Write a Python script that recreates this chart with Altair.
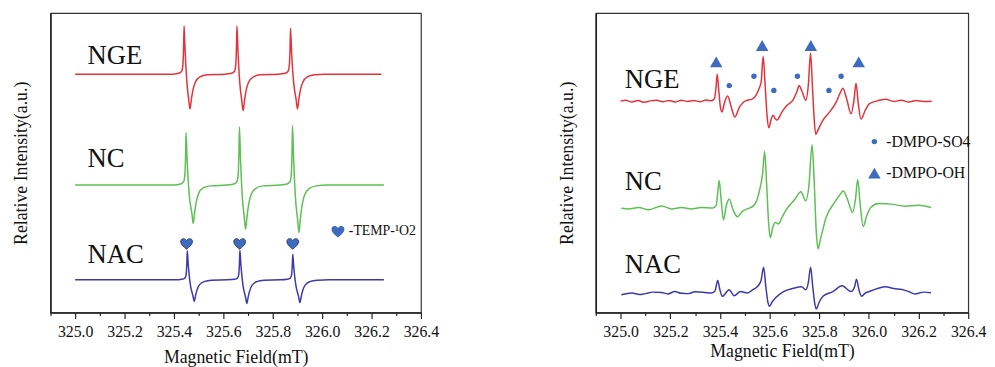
import altair as alt
import pandas as pd

FONT = "Liberation Serif"
RED = "#e3323a"
GREEN = "#5cc052"
BLUE = "#3b3aa8"
MARK_BLUE = "#3d6bbf"

SERIES = ["NGE", "NC", "NAC"]

# ---------------- Left panel (TEMP) ----------------
left_nge_x = [325.000, 325.391, 325.419, 325.431, 325.436, 325.439, 325.441, 325.445, 325.452, 325.460, 325.465,
              325.471, 325.477, 325.487, 325.505, 325.535,
              325.605, 325.633, 325.645, 325.650, 325.653, 325.655, 325.659, 325.666, 325.675, 325.680,
              325.686, 325.692, 325.702, 325.720, 325.750,
              325.822, 325.850, 325.862, 325.867, 325.870, 325.872, 325.876, 325.884, 325.895, 325.900,
              325.906, 325.912, 325.922, 325.940, 325.970, 326.010, 326.240]
left_nge_y = [79.6, 79.6, 79.9, 80.6, 82.6, 88.5, 95.7, 87.7, 77.3, 70.9, 68.0,
              71.5, 74.4, 77.0, 78.7, 79.4,
              79.6, 79.9, 80.6, 82.6, 88.5, 95.7, 87.7, 77.2, 70.5, 67.4,
              71.1, 74.1, 76.9, 78.6, 79.4,
              79.6, 79.9, 80.6, 82.6, 88.1, 95.0, 87.3, 77.3, 70.9, 68.0,
              71.5, 74.4, 77.0, 78.7, 79.4, 79.6, 79.6]

left_nc_x = [325.000, 325.399, 325.427, 325.439, 325.444, 325.447, 325.449, 325.453, 325.461, 325.473, 325.478,
             325.484, 325.490, 325.500, 325.518, 325.548,
             325.615, 325.643, 325.655, 325.660, 325.663, 325.665, 325.669, 325.676, 325.685, 325.690,
             325.696, 325.702, 325.712, 325.730, 325.760,
             325.830, 325.858, 325.870, 325.875, 325.878, 325.880, 325.884, 325.891, 325.901, 325.906,
             325.912, 325.918, 325.928, 325.946, 325.976, 326.020, 326.250]
left_nc_y = [42.6, 42.6, 42.9, 43.7, 46.0, 52.2, 60.1, 51.4, 40.0, 32.9, 29.7,
             33.6, 36.8, 39.8, 41.6, 42.3,
             42.6, 42.9, 43.7, 46.0, 53.3, 62.0, 52.3, 39.6, 31.5, 27.8,
             32.2, 35.9, 39.3, 41.4, 42.3,
             42.6, 42.9, 43.7, 46.0, 53.5, 62.4, 52.5, 39.4, 30.7, 26.7,
             31.5, 35.4, 39.1, 41.3, 42.3, 42.6, 42.6]

left_nac_x = [325.000, 325.404, 325.432, 325.444, 325.449, 325.452, 325.454, 325.458, 325.466, 325.477, 325.482,
              325.488, 325.494, 325.504, 325.522, 325.552,
              325.617, 325.645, 325.657, 325.662, 325.665, 325.667, 325.671, 325.679, 325.690, 325.695,
              325.701, 325.707, 325.717, 325.735, 325.765,
              325.831, 325.859, 325.871, 325.876, 325.879, 325.881, 325.885, 325.893, 325.905, 325.910,
              325.916, 325.922, 325.932, 325.950, 325.980, 326.030, 326.250]
left_nac_y = [10.9, 10.9, 11.1, 11.5, 12.6, 16.2, 20.6, 15.8, 9.5, 5.5, 3.7,
              5.9, 7.7, 9.3, 10.3, 10.8,
              10.9, 11.1, 11.5, 12.6, 16.3, 20.8, 15.9, 9.3, 5.0, 3.0,
              5.4, 7.3, 9.2, 10.3, 10.8,
              10.9, 11.1, 11.5, 12.5, 15.6, 19.5, 15.2, 9.4, 5.2, 3.3,
              5.6, 7.5, 9.2, 10.3, 10.8, 10.9, 10.9]

heart_x = [325.451, 325.666, 325.881]
heart_y = [23.0, 23.0, 23.0]
heart_label = "-TEMP-\u00b9O2"

left_label_x = [325.050, 325.050, 325.050]
left_label_y = [85.7, 51.3, 19.1]

# ---------------- Right panel (DMPO) ----------------
right_nge_x = [325.000, 325.020, 325.045, 325.070, 325.095, 325.120, 325.145, 325.170, 325.195, 325.220,
               325.245, 325.270, 325.295, 325.320, 325.345, 325.365, 325.378, 325.384, 325.389, 325.395,
               325.402, 325.408, 325.418, 325.431, 325.445, 325.460, 325.478, 325.497, 325.515, 325.530,
               325.545, 325.556, 325.566, 325.574, 325.582, 325.590, 325.597, 325.606, 325.614, 325.622,
               325.630, 325.650, 325.670, 325.696, 325.710, 325.719, 325.730, 325.746, 325.756, 325.765,
               325.772, 325.780, 325.786, 325.795, 325.815, 325.842, 325.868, 325.885, 325.895, 325.910,
               325.928, 325.940, 325.948, 325.957, 325.968, 325.985, 326.001, 326.030, 326.067, 326.100,
               326.130, 326.160, 326.190, 326.220, 326.253]
right_nge_y = [70.6, 70.9, 70.3, 70.8, 70.2, 70.7, 70.9, 70.4, 70.8, 70.3,
               70.9, 70.5, 70.8, 70.4, 71.0, 70.7, 71.5, 75.0, 79.6, 74.5,
               68.5, 67.0, 70.0, 72.3, 68.8, 65.3, 68.5, 70.4, 71.0, 71.3,
               72.5, 74.5, 77.0, 85.5, 76.0, 65.5, 61.7, 64.5, 65.9, 64.8,
               64.3, 67.0, 69.2, 71.2, 73.8, 75.8, 74.0, 70.9, 76.0, 86.6,
               76.5, 64.0, 59.5, 61.0, 64.3, 67.0, 70.3, 73.5, 74.9, 71.5,
               66.4, 71.0, 76.6, 70.0, 64.6, 67.5, 69.7, 70.6, 71.2, 70.5,
               70.9, 70.3, 70.8, 70.5, 70.6]

right_nc_x = [325.003, 325.033, 325.072, 325.112, 325.165, 325.205, 325.245, 325.285, 325.324, 325.371,
              325.385, 325.391, 325.397, 325.404, 325.414, 325.425, 325.437, 325.452, 325.470, 325.490,
              325.510, 325.536, 325.550, 325.560, 325.572, 325.580, 325.588, 325.596, 325.603, 325.613,
              325.623, 325.636, 325.650, 325.669, 325.702, 325.726, 325.745, 325.758, 325.771, 325.779,
              325.788, 325.795, 325.805, 325.828, 325.861, 325.880, 325.897, 325.915, 325.934, 325.946,
              325.955, 325.965, 325.977, 325.990, 326.007, 326.040, 326.090, 326.145, 326.199, 326.250]
right_nc_y = [34.8, 34.6, 35.1, 34.3, 35.6, 34.6, 35.1, 34.6, 35.1, 34.9,
              35.8, 40.0, 44.1, 38.5, 30.9, 35.5, 37.9, 34.5, 32.0, 33.8,
              34.6, 35.7, 37.8, 41.0, 46.5, 53.8, 43.0, 30.0, 25.0, 28.5,
              30.1, 29.6, 31.8, 34.6, 37.8, 40.3, 37.3, 42.0, 56.0, 45.0,
              27.0, 21.3, 24.5, 31.8, 36.7, 39.0, 40.6, 37.5, 33.4, 38.0,
              44.4, 36.0, 28.7, 32.0, 35.1, 36.4, 36.2, 35.5, 35.8, 35.1]

right_nac_x = [325.003, 325.046, 325.075, 325.099, 325.130, 325.165, 325.190, 325.218, 325.245, 325.271,
               325.300, 325.338, 325.364, 325.380, 325.391, 325.400, 325.410, 325.437, 325.457, 325.483,
               325.510, 325.530, 325.550, 325.565, 325.576, 325.585, 325.593, 325.600, 325.610, 325.623,
               325.656, 325.696, 325.729, 325.745, 325.756, 325.765, 325.774, 325.782, 325.788, 325.800,
               325.815, 325.855, 325.892, 325.928, 325.942, 325.950, 325.960, 325.971, 325.985, 326.001,
               326.035, 326.067, 326.100, 326.133, 326.160, 326.186, 326.220, 326.250]
right_nac_y = [5.9, 6.5, 6.0, 6.3, 6.8, 6.7, 6.2, 7.0, 6.4, 6.3,
               6.9, 6.7, 6.5, 7.2, 10.7, 7.5, 5.4, 7.6, 5.6, 7.0,
               6.5, 7.5, 8.6, 10.5, 15.1, 8.5, 3.5, 2.1, 3.5, 4.8,
               7.0, 8.1, 8.6, 7.6, 10.0, 15.1, 8.5, 3.0, 1.2, 3.5,
               5.4, 7.0, 8.9, 7.0, 8.5, 11.1, 7.5, 5.4, 6.5, 7.0,
               8.0, 8.6, 8.0, 7.7, 7.0, 6.2, 6.8, 6.6]

tri_x = [325.385, 325.570, 325.766, 325.959]
tri_y = [83.7, 89.2, 89.2, 83.7]
dot_x = [325.4375, 325.537, 325.617, 325.712, 325.839, 325.888]
dot_y = [75.8, 78.9, 74.2, 78.9, 74.2, 78.9]
marker_names = ["-DMPO-SO4", "-DMPO-OH"]

right_label_x = [325.017, 325.017, 325.017]
right_label_y = [77.5, 43.6, 15.8]

major_ticks = [325.0, 325.2, 325.4, 325.6, 325.8, 326.0, 326.2, 326.4]
minor_ticks = [324.9, 325.1, 325.3, 325.5, 325.7, 325.9, 326.1, 326.3]

HEART = ("M0,0.95 C-0.35,0.6 -1,0.2 -1,-0.35 C-1,-0.85 -0.4,-1.05 0,-0.55 "
         "C0.4,-1.05 1,-0.85 1,-0.35 C1,0.2 0.35,0.6 0,0.95 Z")


def lines_df(xs_list, ys_list):
    frames = []
    for name, xs, ys in zip(SERIES, xs_list, ys_list):
        frames.append(pd.DataFrame({"field": xs, "intensity": ys, "sample": name}))
    return pd.concat(frames, ignore_index=True)


xscale = alt.Scale(domain=[324.9, 326.4], nice=False, zero=False)
yscale = alt.Scale(domain=[0, 100], nice=False, zero=False)
cscale = alt.Scale(domain=SERIES, range=[RED, GREEN, BLUE])


def major_axis(title_pad):
    return alt.Axis(
        values=major_ticks, format=".1f", tickSize=6,
        labelFlush=False, labelOverlap=False, grid=False,
        title="Magnetic Field(mT)", titleFont=FONT, titleFontSize=18, titleFontWeight="normal",
        titleColor="#111", titlePadding=title_pad,
        labelFont=FONT, labelFontSize=16, labelColor="#111", labelPadding=5,
        domainColor="#222", domainWidth=1.5, tickColor="#222", tickWidth=1.2,
    )


minor_axis = alt.Axis(values=minor_ticks, labels=False, tickSize=3, domain=False, grid=False,
                      title=None, orient="bottom", tickColor="#222", tickWidth=1.2)

y_axis = alt.Axis(labels=False, ticks=False, grid=False, title="Relative Intensity(a.u.)",
                  titleFont=FONT, titleFontSize=18, titleFontWeight="normal", titleColor="#111",
                  titlePadding=20, domainColor="#222", domainWidth=1.5)


def panel(lines, labels_df, title_pad):
    base_lines = alt.Chart(lines).mark_line(strokeWidth=1.5, interpolate="monotone").encode(
        x=alt.X("field:Q", scale=xscale, axis=major_axis(title_pad)),
        y=alt.Y("intensity:Q", scale=yscale, axis=y_axis),
        color=alt.Color("sample:N", scale=cscale, legend=None),
        detail="sample:N",
    )
    text = alt.Chart(labels_df).mark_text(font=FONT, fontSize=27, align="left", baseline="middle",
                                           color="#111").encode(
        x=alt.X("x:Q", scale=xscale, axis=minor_axis),
        y=alt.Y("y:Q", scale=yscale, axis=y_axis),
        text="label:N")
    return base_lines, text


left_lines = lines_df([left_nge_x, left_nc_x, left_nac_x], [left_nge_y, left_nc_y, left_nac_y])
left_labels = pd.DataFrame({"x": left_label_x, "y": left_label_y, "label": SERIES})
hearts = pd.DataFrame({"x": heart_x, "y": heart_y, "heart": [heart_label] * len(heart_x)})

ll, lt = panel(left_lines, left_labels, 10)
lh = alt.Chart(hearts).mark_point(fill=MARK_BLUE, stroke="#1c2b55", strokeWidth=0.8, opacity=1,
                                  size=144).encode(
    x=alt.X("x:Q", scale=xscale, axis=None), y=alt.Y("y:Q", scale=yscale, axis=y_axis),
    shape=alt.Shape("heart:N", scale=alt.Scale(domain=[heart_label], range=[HEART]),
                    legend=alt.Legend(orient="none", legendX=284, legendY=214, title=None,
                                      labelFont=FONT, labelFontSize=14, labelColor="#111",
                                      symbolSize=169, symbolFillColor=MARK_BLUE,
                                      symbolStrokeColor="#1c2b55", symbolStrokeWidth=0.8,
                                      labelOffset=4, padding=0)),
)
left = alt.layer(ll, lh, lt).resolve_axis(x="independent").properties(width=375, height=303)

right_lines = lines_df([right_nge_x, right_nc_x, right_nac_x], [right_nge_y, right_nc_y, right_nac_y])
right_labels = pd.DataFrame({"x": right_label_x, "y": right_label_y, "label": SERIES})
markers = pd.concat([
    pd.DataFrame({"x": dot_x, "y": dot_y, "marker": marker_names[0]}),
    pd.DataFrame({"x": tri_x, "y": tri_y, "marker": marker_names[1]}),
], ignore_index=True)

rl, rt = panel(right_lines, right_labels, 4)
marker_legend = alt.Legend(orient="none", legendX=274, legendY=122, title=None,
                           labelFont=FONT, labelFontSize=16, labelColor="#111",
                           symbolFillColor=MARK_BLUE, symbolStrokeWidth=0,
                           labelOffset=4, padding=0, rowPadding=16)
rm = alt.Chart(markers).mark_point(filled=True, color=MARK_BLUE, opacity=1).encode(
    x=alt.X("x:Q", scale=xscale, axis=None), y=alt.Y("y:Q", scale=yscale, axis=y_axis),
    shape=alt.Shape("marker:N", scale=alt.Scale(domain=marker_names, range=["circle", "triangle-up"]),
                    legend=marker_legend),
    size=alt.Size("marker:N", scale=alt.Scale(domain=marker_names, range=[30, 160]),
                  legend=marker_legend),
)
right = alt.layer(rl, rm, rt).resolve_axis(x="independent").properties(width=377, height=303)

chart = alt.hconcat(left, right, spacing=119).resolve_scale(
    shape="independent", size="independent"
).resolve_legend(shape="independent", size="independent").configure_view(
    stroke="#333", strokeWidth=1.2
).properties(padding={"left": 4, "top": 2, "right": 0, "bottom": 0})

chart.save("out.html", embed_options={"renderer": "svg", "actions": False})
